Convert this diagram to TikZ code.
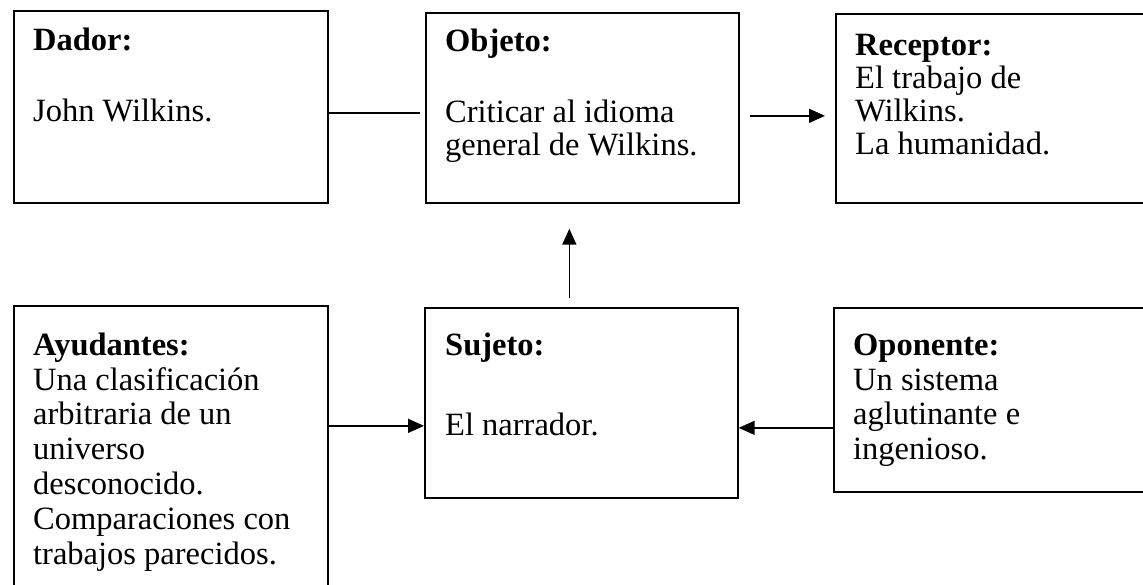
\documentclass[tikz,border=0pt]{standalone}
\usepackage{fontspec}
\setmainfont{Liberation Serif}
\usetikzlibrary{arrows.meta}
\newcommand\firstrow{\rule{0pt}{25pt}}
\begin{document}
\begin{tikzpicture}[x=1pt,y=-1pt,
  box/.style={draw, line width=1.7pt, rectangle, inner sep=0pt, anchor=north west},
  boxtext/.style={anchor=north west, inner sep=0pt, align=left},
  toptext/.style={boxtext, font=\fontsize{32.5}{33}\selectfont},
  bottext/.style={boxtext, font=\fontsize{32.5}{34.8}\selectfont},
  conn/.style={line width=1.6pt},
  arr/.style={conn, -{Triangle[length=16pt,width=14pt]}}]
\useasboundingbox (0,0) rectangle (1143,585);

% actant boxes
\node[box, minimum width=314pt, minimum height=192pt] (dador) at (13,10) {};
\node[box, minimum width=313pt, minimum height=190pt] (objeto) at (425,12) {};
\node[box, minimum width=330pt, minimum height=189pt] (receptor) at (835,13) {};
\node[box, minimum width=314pt, minimum height=300pt] (ayudantes) at (13,305) {};
\node[box, minimum width=313pt, minimum height=190pt] (sujeto) at (424,307) {};
\node[box, minimum width=330pt, minimum height=184pt] (oponente) at (833,307) {};

% box contents
\node[toptext] (dadortxt) at (33,25) {\firstrow\textbf{Dador:}\\[38pt]John Wilkins.};
\node[toptext] (objetotxt) at (445,26) {\firstrow\textbf{Objeto:}\\[38pt]Criticar al idioma\\general de Wilkins.};
\node[toptext] (receptortxt) at (855,30) {\firstrow\textbf{Receptor:}\\El trabajo de\\Wilkins.\\La humanidad.};
\node[bottext] (ayudantestxt) at (33,330) {\firstrow\textbf{Ayudantes:}\\Una clasificación\\arbitraria de un\\universo\\desconocido.\\Comparaciones con\\trabajos parecidos.};
\node[bottext] (sujetotxt) at (445,330) {\firstrow\textbf{Sujeto:}\\[45pt]El narrador.};
\node[bottext] (oponentetxt) at (853,330) {\firstrow\textbf{Oponente:}\\Un sistema\\aglutinante e\\ingenioso.};

% connectors
\draw[conn, shorten >=5pt] ([yshift=-6pt]dador.east) -- ([yshift=-6pt]dador.east -| objeto.west);
\draw[arr, shorten <=10pt, shorten >=10pt] ([yshift=-8pt]objeto.east) -- ([yshift=-8pt]objeto.east -| receptor.west);
\draw[arr, shorten <=9pt, shorten >=25pt] ([xshift=-12pt]sujeto.north) -- ([xshift=-12pt]sujeto.north |- objeto.south);
\draw[arr] ([yshift=-23pt]sujeto.west -| ayudantes.east) -- ([yshift=-23pt]sujeto.west);
\draw[arr] ([yshift=-25pt]sujeto.east -| oponente.west) -- ([yshift=-25pt]sujeto.east);
\end{tikzpicture}
\end{document}
